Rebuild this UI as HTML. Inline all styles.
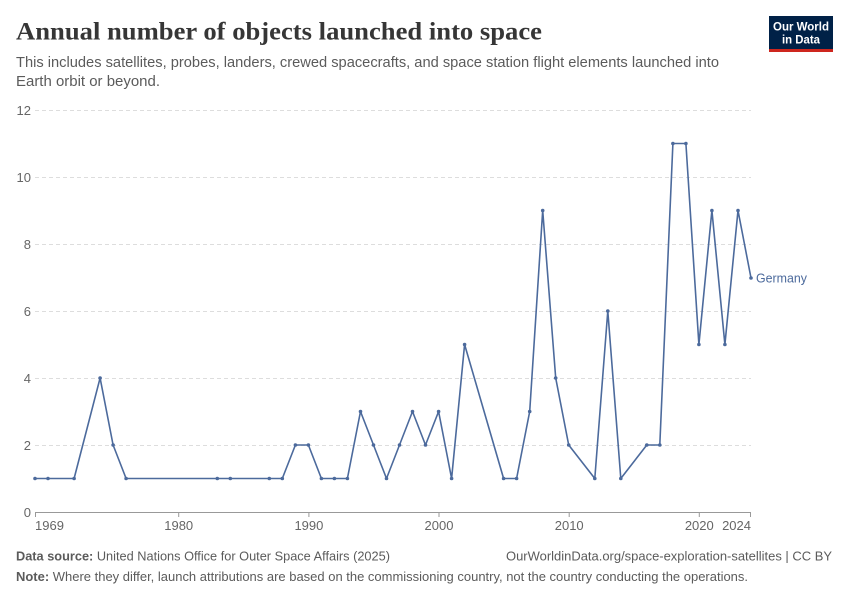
<!DOCTYPE html>
<html>
<head>
<meta charset="utf-8">
<style>
  html, body { margin: 0; padding: 0; background: #fff; }
  body { width: 850px; height: 600px; overflow: hidden; }
  svg { display: block; }
  .lato { font-family: "Liberation Sans", "DejaVu Sans", sans-serif; }
</style>
</head>
<body>
<svg width="850" height="600" viewBox="0 0 850 600" xmlns="http://www.w3.org/2000/svg">
  <rect x="0" y="0" width="850" height="600" fill="#ffffff"/>

  <!-- Title -->
  <text x="16" y="39.5" font-family="Liberation Serif, serif" font-weight="bold" font-size="25.5" fill="#363636" textLength="526" lengthAdjust="spacingAndGlyphs">Annual number of objects launched into space</text>

  <!-- Subtitle -->
  <text class="lato" x="16" y="67" font-size="14.5" fill="#5b5b5b" textLength="703" lengthAdjust="spacingAndGlyphs">This includes satellites, probes, landers, crewed spacecrafts, and space station flight elements launched into</text>
  <text class="lato" x="16" y="86" font-size="14.5" fill="#5b5b5b" textLength="144" lengthAdjust="spacingAndGlyphs">Earth orbit or beyond.</text>

  <!-- Logo -->
  <rect x="769" y="16" width="64" height="34" fill="#002147"/>
  <rect x="769" y="49" width="64" height="3" fill="#ce261e"/>
  <text class="lato" x="801" y="30.5" font-size="11.5" font-weight="bold" fill="#ffffff" text-anchor="middle" textLength="56" lengthAdjust="spacingAndGlyphs">Our World</text>
  <text class="lato" x="801" y="43.5" font-size="11.5" font-weight="bold" fill="#ffffff" text-anchor="middle" textLength="38" lengthAdjust="spacingAndGlyphs">in Data</text>

  <!-- Gridlines -->
  <g stroke="#dddddd" stroke-width="1" stroke-dasharray="4,3">
    <line x1="35" y1="110.5" x2="751" y2="110.5"/>
    <line x1="35" y1="177.5" x2="751" y2="177.5"/>
    <line x1="35" y1="244.5" x2="751" y2="244.5"/>
    <line x1="35" y1="311.5" x2="751" y2="311.5"/>
    <line x1="35" y1="378.5" x2="751" y2="378.5"/>
    <line x1="35" y1="445.5" x2="751" y2="445.5"/>
  </g>

  <!-- Y labels -->
  <g class="lato" font-size="13" fill="#666666" text-anchor="end">
    <text x="31" y="115">12</text>
    <text x="31" y="182">10</text>
    <text x="31" y="249">8</text>
    <text x="31" y="316">6</text>
    <text x="31" y="383">4</text>
    <text x="31" y="450">2</text>
    <text x="31" y="517">0</text>
  </g>

  <!-- X axis -->
  <line x1="35" y1="512.5" x2="751" y2="512.5" stroke="#999999" stroke-width="1"/>
  <g stroke="#999999" stroke-width="1">
    <line x1="35.5" y1="512" x2="35.5" y2="517"/>
    <line x1="178.7" y1="512" x2="178.7" y2="517"/>
    <line x1="308.9" y1="512" x2="308.9" y2="517"/>
    <line x1="439" y1="512" x2="439" y2="517"/>
    <line x1="569.2" y1="512" x2="569.2" y2="517"/>
    <line x1="699.3" y1="512" x2="699.3" y2="517"/>
    <line x1="750.5" y1="512" x2="750.5" y2="517"/>
  </g>
  <g class="lato" font-size="13" fill="#666666">
    <text x="35" y="530">1969</text>
    <text x="178.7" y="530" text-anchor="middle">1980</text>
    <text x="308.9" y="530" text-anchor="middle">1990</text>
    <text x="439" y="530" text-anchor="middle">2000</text>
    <text x="569.2" y="530" text-anchor="middle">2010</text>
    <text x="699.3" y="530" text-anchor="middle">2020</text>
    <text x="751" y="530" text-anchor="end">2024</text>
  </g>

  <!-- Series -->
  <polyline fill="none" stroke="#4c6a9c" stroke-width="1.6" stroke-linejoin="round"
    points="35,478.5 48,478.5 74.1,478.5 100.1,378 113.1,445 126.1,478.5 217.3,478.5 230.3,478.5 269.3,478.5 282.3,478.5 295.4,445 308.4,445 321.4,478.5 334.4,478.5 347.4,478.5 360.5,411.5 373.5,445 386.5,478.5 399.5,445 412.5,411.5 425.5,445 438.6,411.5 451.6,478.5 464.6,344.5 503.6,478.5 516.6,478.5 529.7,411.5 542.7,210.5 555.7,378 568.7,445 594.8,478.5 607.8,311 620.8,478.5 646.8,445 659.8,445 672.9,143.5 685.9,143.5 698.9,344.5 711.9,210.5 724.9,344.5 738,210.5 751,278"/>
  <g fill="#4c6a9c">
    <circle cx="35" cy="478.5" r="1.8"/>
    <circle cx="48" cy="478.5" r="1.8"/>
    <circle cx="74.1" cy="478.5" r="1.8"/>
    <circle cx="100.1" cy="378" r="1.8"/>
    <circle cx="113.1" cy="445" r="1.8"/>
    <circle cx="126.1" cy="478.5" r="1.8"/>
    <circle cx="217.3" cy="478.5" r="1.8"/>
    <circle cx="230.3" cy="478.5" r="1.8"/>
    <circle cx="269.3" cy="478.5" r="1.8"/>
    <circle cx="282.3" cy="478.5" r="1.8"/>
    <circle cx="295.4" cy="445" r="1.8"/>
    <circle cx="308.4" cy="445" r="1.8"/>
    <circle cx="321.4" cy="478.5" r="1.8"/>
    <circle cx="334.4" cy="478.5" r="1.8"/>
    <circle cx="347.4" cy="478.5" r="1.8"/>
    <circle cx="360.5" cy="411.5" r="1.8"/>
    <circle cx="373.5" cy="445" r="1.8"/>
    <circle cx="386.5" cy="478.5" r="1.8"/>
    <circle cx="399.5" cy="445" r="1.8"/>
    <circle cx="412.5" cy="411.5" r="1.8"/>
    <circle cx="425.5" cy="445" r="1.8"/>
    <circle cx="438.6" cy="411.5" r="1.8"/>
    <circle cx="451.6" cy="478.5" r="1.8"/>
    <circle cx="464.6" cy="344.5" r="1.8"/>
    <circle cx="503.6" cy="478.5" r="1.8"/>
    <circle cx="516.6" cy="478.5" r="1.8"/>
    <circle cx="529.7" cy="411.5" r="1.8"/>
    <circle cx="542.7" cy="210.5" r="1.8"/>
    <circle cx="555.7" cy="378" r="1.8"/>
    <circle cx="568.7" cy="445" r="1.8"/>
    <circle cx="594.8" cy="478.5" r="1.8"/>
    <circle cx="607.8" cy="311" r="1.8"/>
    <circle cx="620.8" cy="478.5" r="1.8"/>
    <circle cx="646.8" cy="445" r="1.8"/>
    <circle cx="659.8" cy="445" r="1.8"/>
    <circle cx="672.9" cy="143.5" r="1.8"/>
    <circle cx="685.9" cy="143.5" r="1.8"/>
    <circle cx="698.9" cy="344.5" r="1.8"/>
    <circle cx="711.9" cy="210.5" r="1.8"/>
    <circle cx="724.9" cy="344.5" r="1.8"/>
    <circle cx="738" cy="210.5" r="1.8"/>
    <circle cx="751" cy="278" r="1.8"/>
  </g>

  <!-- Series label -->
  <text class="lato" x="756" y="282.5" font-size="13" fill="#4c6a9c" textLength="51" lengthAdjust="spacingAndGlyphs">Germany</text>

  <!-- Footer -->
  <text class="lato" x="16" y="560.5" font-size="13" fill="#5b5b5b" textLength="374" lengthAdjust="spacingAndGlyphs"><tspan font-weight="bold">Data source:</tspan> United Nations Office for Outer Space Affairs (2025)</text>
  <text class="lato" x="832" y="560.5" font-size="13" fill="#5b5b5b" text-anchor="end" textLength="326" lengthAdjust="spacingAndGlyphs">OurWorldinData.org/space-exploration-satellites | CC BY</text>
  <text class="lato" x="16" y="581" font-size="13" fill="#5b5b5b" textLength="732" lengthAdjust="spacingAndGlyphs"><tspan font-weight="bold">Note:</tspan> Where they differ, launch attributions are based on the commissioning country, not the country conducting the operations.</text>
</svg>
</body>
</html>
